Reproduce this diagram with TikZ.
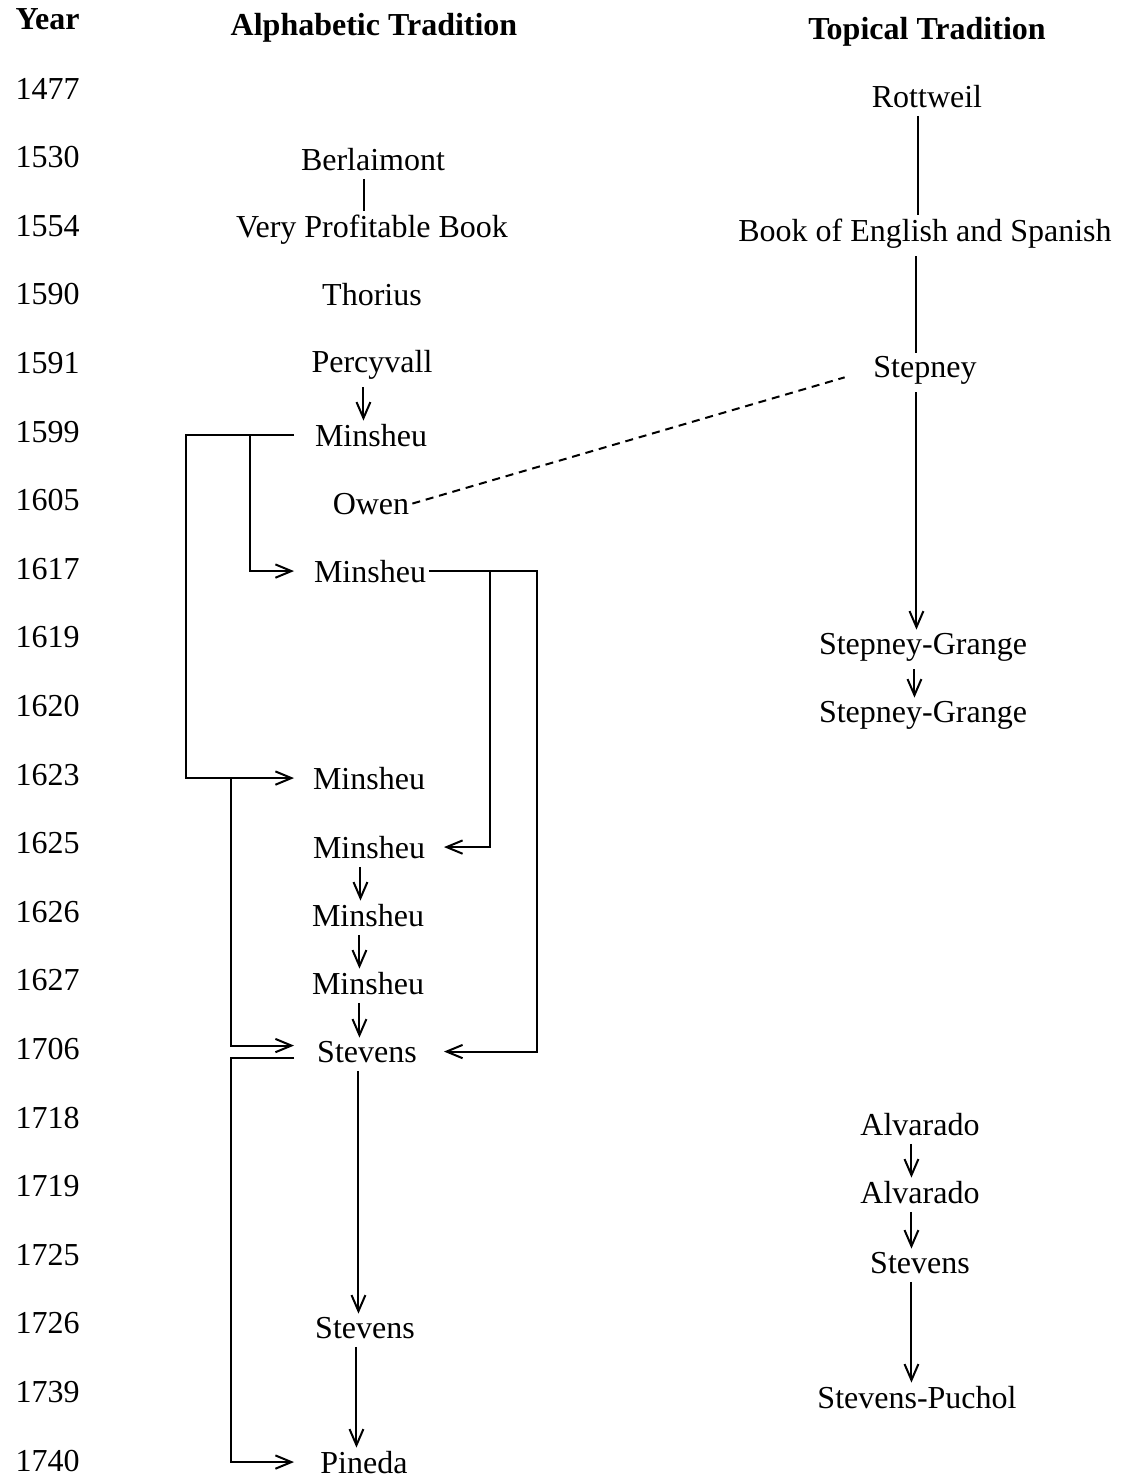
\documentclass[tikz,border=0pt]{standalone}
\usepackage{fontspec}
\setmainfont{Liberation Serif}
\usetikzlibrary{arrows.meta,calc}

\begin{document}
\begin{tikzpicture}[
    x=0.375pt, y=-0.375pt,
    every node/.style={font=\fontsize{12pt}{14pt}\selectfont},
    head/.style={anchor=base, inner sep=0pt, font=\fontsize{12pt}{14pt}\selectfont\bfseries},
    entry/.style={anchor=base, inner sep=1pt},
    yearlbl/.style={anchor=base west, inner sep=0pt},
    link/.style={line width=0.75pt, shorten <=2pt},
    arr/.style={link, -{Straight Barb[length=6pt,width=5.2pt]}},
    nudge/.style={transform canvas={xshift=-3.2pt}},
    elbow/.style={line width=0.75pt, -{Straight Barb[length=6pt,width=5pt]}},
    faint/.style={line width=0.75pt, dash pattern=on 3pt off 2.2pt}
  ]
  \useasboundingbox (0,0) rectangle (1121,1480);

  % column heads
  \node[head, anchor=base west] (hyear) at (15,29) {Year};
  \node[head] (halpha) at (374,35) {Alphabetic Tradition};
  \node[head] (htopic) at (927,39) {Topical Tradition};

  % years
  \foreach \yr [count=\i from 0] in {1477,1530,1554,1590,1591,1599,1605,1617,1619,1620,1623,1625,1626,1627,1706,1718,1719,1725,1726,1739,1740}
    \node[yearlbl] (y\yr) at (15,{99+68.6*\i}) {\yr};

  % alphabetic tradition
  \node[entry] (berl) at (373,170) {Berlaimont};
  \node[entry] (vpb) at (372,237) {Very Profitable Book};
  \node[entry] (thor) at (372,305) {Thorius};
  \node[entry] (perc) at (372,372) {Percyvall};
  \node[entry] (min99) at (371,446) {Minsheu};
  \node[entry] (owen) at (371,514) {Owen};
  \node[entry] (min17) at (370,582) {Minsheu};
  \node[entry] (min23) at (369,789) {Minsheu};
  \node[entry] (min25) at (369,858) {Minsheu};
  \node[entry] (min26) at (368,926) {Minsheu};
  \node[entry] (min27) at (368,994) {Minsheu};
  \node[entry] (stev06) at (367,1062) {Stevens};
  \node[entry] (stev26) at (365,1338) {Stevens};
  \node[entry] (pined) at (364,1473) {Pineda};

  % topical tradition
  \node[entry] (rott) at (927,107) {Rottweil};
  \node[entry] (bees) at (925,241) {Book of English and Spanish};
  \node[entry] (step) at (925,377) {Stepney};
  \node[entry] (sg19) at (923,654) {Stepney-Grange};
  \node[entry] (sg20) at (923,722) {Stepney-Grange};
  \node[entry] (alv18) at (920,1135) {Alvarado};
  \node[entry] (alv19) at (920,1203) {Alvarado};
  \node[entry] (stev25) at (920,1273) {Stevens};
  \node[entry] (puch) at (917,1408) {Stevens-Puchol};

  % bus lines beside the alphabetic column
  \coordinate (lgate) at (294,0);
  \coordinate (lbus1) at (186,0);
  \coordinate (lbus2) at (250,0);
  \coordinate (lbus3) at (231,0);
  \coordinate (rgate) at (444,0);
  \coordinate (rbus1) at (537,0);
  \coordinate (rbus2) at (490,0);

  % straight descent
  \draw[link, nudge] (berl.south) -- (berl.south |- vpb.north);
  \draw[arr, nudge] (perc.south) -- (perc.south |- min99.north);
  \foreach \a/\b in {min25/min26, min26/min27, min27/stev06, stev06/stev26, stev26/pined}
    \draw[arr, nudge] (\a.south) -- (\a.south |- \b.north);
  \draw[link, nudge] (rott.south) -- (rott.south |- bees.north);
  \draw[link, nudge] (bees.south) -- (bees.south |- step.north);
  \foreach \a/\b in {step/sg19, sg19/sg20, alv18/alv19, alv19/stev25, stev25/puch}
    \draw[arr, nudge] (\a.south) -- (\a.south |- \b.north);

  % elbows on the left
  \draw[elbow] (lgate |- min99) -| (lbus1 |- min23) -- (lgate |- min23);
  \draw[elbow] (lbus2 |- min99) |- (lgate |- min17);
  \draw[elbow] (lbus3 |- min23) |- ($(lgate |- stev06)+(0,-6)$);
  \draw[elbow] ($(lgate |- stev06)+(0,6)$) -| (lbus3 |- pined) -- (lgate |- pined);

  % elbows on the right
  \draw[elbow] (min17.east) -| (rbus1 |- stev06) -- (rgate |- stev06);
  \draw[elbow] (rbus2 |- min17) |- (rgate |- min25);

  % cross link
  \draw[faint, shorten >=10pt] (owen.east) -- (step.west);
\end{tikzpicture}
\end{document}
